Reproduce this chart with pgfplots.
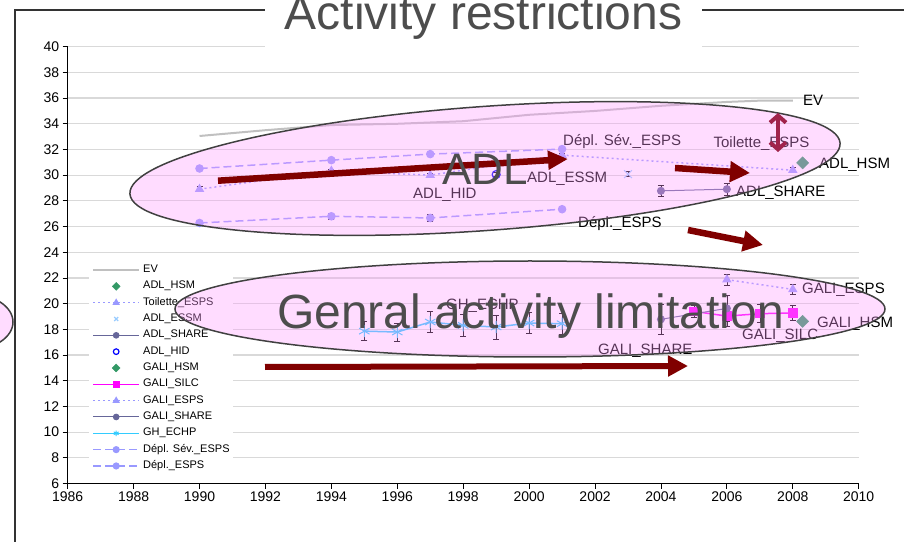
\documentclass[border=0pt]{standalone}
\usepackage{pgfplots}
\pgfplotsset{compat=1.18}
\usepackage{fontspec}
\setmainfont{Liberation Sans}
\usetikzlibrary{arrows.meta}
\definecolor{evgray}{HTML}{C0C0C0}
\definecolor{lav}{HTML}{9999FF}
\definecolor{slate}{HTML}{666699}
\definecolor{hsm}{HTML}{339966}
\definecolor{essm}{HTML}{99CCFF}
\definecolor{echp}{HTML}{33CCFF}
\definecolor{mag}{HTML}{FF00FF}
\definecolor{ovl}{HTML}{FF99FF}
\definecolor{darkred}{HTML}{800000}
\definecolor{plum}{HTML}{A0234B}
\definecolor{txtgray}{HTML}{4D4D4D}
\definecolor{gridc}{HTML}{D9D9D9}
\definecolor{ellgray}{HTML}{404040}
\definecolor{framec}{HTML}{333333}
\pgfplotsset{
  ebars/.style={error bars/.cd, y dir=both, y explicit,
    error bar style={black, line width=0.6pt, solid},
    error mark options={rotate=90, black, mark size=3pt, line width=0.6pt, solid}},
}
\begin{document}
\begin{tikzpicture}[x=1pt,y=1pt]
\useasboundingbox (0,0) rectangle (904,541);
\begin{axis}[
  at={(67.7pt,57.5pt)}, anchor=south west,
  scale only axis, width=791pt, height=436.8pt,
  xmin=1986, xmax=2010, ymin=6, ymax=40,
  xtick={1986,1988,...,2010}, ytick={6,8,...,40},
  axis x line*=bottom, axis y line*=left,
  axis line style={-, black, line width=0.8pt},
  ymajorgrids, grid style={gridc, line width=1.2pt},
  tick style={black, line width=0.8pt},
  major tick length=5pt, tick align=outside,
  tick label style={font=\fontsize{14}{14}\selectfont, /pgf/number format/assume math mode=true, /pgf/number format/1000 sep={}},
  legend style={at={(axis description cs:0.0269,0.5087)}, anchor=north west, draw=none, fill=white,
    font=\fontsize{11}{11}\selectfont, inner sep=3pt, row sep=5.33pt,
    nodes={inner sep=0pt, text height=8pt, text depth=3pt},
    /tikz/every odd column/.append style={column sep=3pt}},
  legend cell align=left,
  legend image code/.code={\draw[mark repeat=2,mark phase=2,#1] plot coordinates {(0pt,0pt) (23pt,0pt) (46pt,0pt)};},
  legend image post style={mark size=2.8pt},
]
\addplot[evgray, line width=2pt, no markers] coordinates {(1990,33.05) (1992,33.5) (1994,33.9) (1996,34.0) (1998,34.2) (2000,34.7) (2002,35.0) (2004,35.4) (2006,35.7) (2007,35.8) (2008,35.8)};
\addlegendentry{EV}
\addplot[hsm, only marks, mark=square*, mark size=4.3pt, mark options={rotate=45, fill=hsm, draw=hsm}] coordinates {(2008.3,30.96)};
\addlegendentry{ADL\_HSM}
\addplot[lav, line width=1.5pt, dash pattern=on 2pt off 3pt, mark=triangle*, mark size=4pt, mark options={solid, fill=lav}, ebars] coordinates {(1990,28.91) +- (0,0.2) (1994,30.33) +- (0,0.15) (1997,30.0) +- (0,0.15) (2001,31.56) +- (0,0.15) (2008,30.39) +- (0,0.2)};
\addlegendentry{Toilette\_ESPS}
\addplot[essm, only marks, mark=x, mark size=5.5pt, mark options={line width=1.2pt}, ebars] coordinates {(2003,30.08) +- (0,0.2)};
\addlegendentry{ADL\_ESSM}
\addplot[slate, line width=1pt, mark=*, mark size=3.5pt, ebars] coordinates {(2004,28.78) +- (0,0.45) (2006,28.91) +- (0,0.45)};
\addlegendentry{ADL\_SHARE}
\addplot[blue, only marks, mark=o, mark size=4pt, mark options={line width=1.2pt}, ebars] coordinates {(1999,30.05) +- (0,0.15)};
\addlegendentry{ADL\_HID}
\addplot[hsm, only marks, mark=square*, mark size=4.3pt, mark options={rotate=45, fill=hsm, draw=hsm}] coordinates {(2008.3,18.62)};
\addlegendentry{GALI\_HSM}
\addplot[mag, line width=1.5pt, mark=square*, mark size=4pt, mark options={solid, fill=mag}, ebars] coordinates {(2005,19.40) +- (0,0.5) (2006,19.03) +- (0,0.8) (2007,19.22) +- (0,0.7) (2008,19.27) +- (0,0.57)};
\addlegendentry{GALI\_SILC}
\addplot[lav, line width=1.5pt, dash pattern=on 2pt off 3pt, mark=triangle*, mark size=4pt, mark options={solid, fill=lav}, ebars] coordinates {(2006,21.87) +- (0,0.43) (2008,21.11) +- (0,0.4)};
\addlegendentry{GALI\_ESPS}
\addplot[slate, line width=1pt, mark=*, mark size=3.5pt, ebars] coordinates {(2004,18.78) +- (0,1.17) (2006,19.63) +- (0,1.0)};
\addlegendentry{GALI\_SHARE}
\addplot[echp, line width=1.5pt, mark=asterisk, mark size=6pt, mark options={line width=1pt}, ebars] coordinates {(1995,17.86) +- (0,0.75) (1996,17.79) +- (0,0.7) (1997,18.57) +- (0,0.8) (1998,18.31) +- (0,0.85) (1999,18.18) +- (0,0.95) (2000,18.49) +- (0,0.8) (2001,18.44) +- (0,0.8)};
\addlegendentry{GH\_ECHP}
\addplot[lav, line width=1.5pt, dash pattern=on 8pt off 4pt, mark=*, mark size=3.5pt, mark options={solid, fill=lav}, ebars] coordinates {(1990,30.52) +- (0,0.15) (1994,31.17) +- (0,0.15) (1997,31.64) +- (0,0.15) (2001,32.03) +- (0,0.15)};
\addlegendentry{Dépl. Sév.\_ESPS}
\addplot[lav, line width=1.5pt, dash pattern=on 8pt off 4pt, mark=*, mark size=3.5pt, mark options={solid, fill=lav}, ebars] coordinates {(1990,26.28) +- (0,0.15) (1994,26.80) +- (0,0.2) (1997,26.67) +- (0,0.25) (2001,27.35) +- (0,0.15)};
\addlegendentry{Dépl.\_ESPS}
\end{axis}
% data labels
\begin{scope}[every node/.style={inner sep=0pt, font=\fontsize{15}{15}\selectfont, black}]
\node[anchor=base west] at (803,435.6) {EV};
\node[anchor=base] at (761.5,393.6) {Toilette\_ESPS};
\node[anchor=base west] at (563,395.6) {Dépl. Sév.\_ESPS};
\node[anchor=base west] at (527,358.6) {ADL\_ESSM};
\node[anchor=base west] at (413,342.6) {ADL\_HID};
\node[anchor=base west] at (736,344.9) {ADL\_SHARE};
\node[anchor=base west] at (819,372.6) {ADL\_HSM};
\node[anchor=base west] at (578,313.9) {Dépl.\_ESPS};
\node[anchor=base west] at (802,247.9) {GALI\_ESPS};
\node[anchor=base west] at (817,213.9) {GALI\_HSM};
\node[anchor=base west] at (742,201.6) {GALI\_SILC};
\node[anchor=base west] at (598,186.3) {GALI\_SHARE};
\node[anchor=base west] at (446,231.6) {GH\_ECHP};
\end{scope}
% overlay ellipses
\draw[draw=ellgray, line width=1.5pt, fill=ovl, fill opacity=0.34, rotate around={4.1:(485,372.5)}] (485,372.5) ellipse (356 and 62);
\draw[draw=ellgray, line width=1.5pt, fill=ovl, fill opacity=0.34] (530,232) ellipse (355 and 48);
\draw[draw=ellgray, line width=1.5pt, fill=ovl, fill opacity=0.34] (-30,219) ellipse (43 and 28);
% arrows
\draw[darkred, line width=6.5pt, -{Triangle[length=20pt,width=18pt]}] (218,360.3) -- (568,382);
\draw[darkred, line width=6.5pt, -{Triangle[length=20pt,width=20pt]}] (675,373) -- (750,368);
\draw[darkred, line width=6.5pt, -{Triangle[length=20pt,width=20pt]}] (688,311) -- (763,296);
\draw[darkred, line width=6pt, -{Triangle[length=20pt,width=20pt]}] (265,174) -- (688,175);
\draw[plum, line width=4pt, {Straight Barb[length=7pt,width=16pt]}-{Straight Barb[length=7pt,width=16pt]}] (778,428) -- (778,389);
% big texts
\node[anchor=base west, inner sep=0pt, txtgray, font=\fontsize{48}{48}\selectfont] at (277,212.7) {Genral activity limitation};
\node[anchor=base west, inner sep=0pt, txtgray, font=\fontsize{44}{44}\selectfont] at (442,356) {ADL};
% frame and title
\draw[framec, line width=2pt] (15,-5) -- (15,531) -- (910,531);
\fill[white] (265,493) rectangle (702,545);
\node[anchor=base, inner sep=0pt, txtgray, font=\fontsize{48}{48}\selectfont] at (483.5,511) {Activity restrictions};
\end{tikzpicture}
\end{document}
